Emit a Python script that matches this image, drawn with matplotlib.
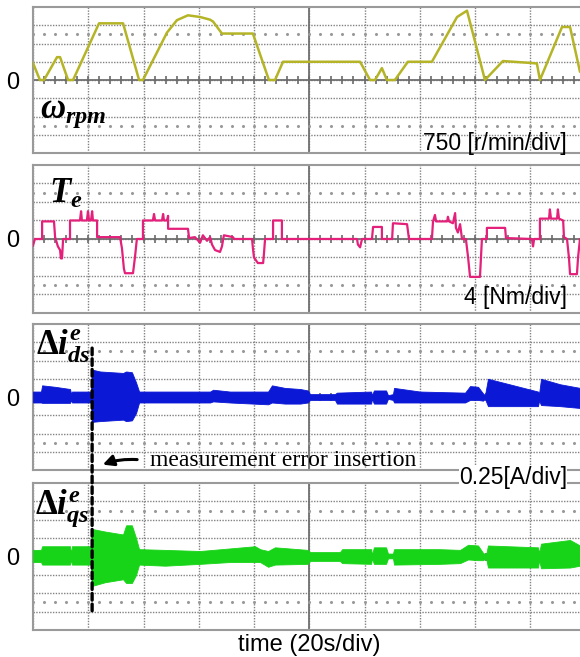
import matplotlib.pyplot as plt
import numpy as np
from matplotlib.patches import ConnectionPatch

plt.rcParams['font.family'] = ['Liberation Sans', 'DejaVu Sans']
plt.rcParams['mathtext.fontset'] = 'custom'
plt.rcParams['mathtext.rm'] = 'Liberation Serif:bold'
plt.rcParams['mathtext.it'] = 'Liberation Serif:italic:bold'
plt.rcParams['mathtext.bf'] = 'Liberation Serif:bold'

# scope settings
time_per_div = 20      # s/div
speed_per_div = 750    # r/min/div
torque_per_div = 4     # Nm/div
current_per_div = 0.25 # A/div
insertion_time = 21.4  # s, measurement error inserted

# speed trace (s, r/min)
speed = [(0, 700), (2.5, 0), (4.0, 0), (8.7, 940), (9.8, 940), (12.7, 0), (14.5, 0),
         (23.9, 2330), (32.6, 2330), (38.4, 0), (39.8, 0), (48.5, 1950), (52.1, 2460),
         (56.1, 2660), (60.5, 2590), (64.1, 2480), (65.2, 2400), (68.4, 1910),
         (79.6, 1910), (85.4, 0), (87.6, 0), (90.5, 750), (118.4, 750), (122.0, 0),
         (123.8, 0), (126.3, 490), (128.1, 0), (131.0, 0), (135.7, 750), (144.4, 750),
         (153.5, 2590), (157.1, 2850), (163.6, 0), (170.1, 780), (179.2, 710),
         (182.4, 680), (183.5, 0), (191.5, 2180), (194.4, 2180), (198.0, 340), (200, 200)]

# torque trace (s, Nm)
torque = [(0, -1.4), (0.7, 0), (3.3, 0), (3.3, 3.8), (7.6, 3.8), (8.0, 0.4), (9.0, -1.6),
          (9.8, -2.4), (10.1, -4.2), (10.5, -4.2), (10.9, 0), (13.4, 0), (13.4, 4.0),
          (17.0, 4.0), (17.4, 6.0), (17.7, 4.0), (19.5, 4.0), (19.9, 6.0), (20.3, 4.0),
          (21.0, 4.0), (21.4, 6.0), (21.7, 4.0), (23.2, 4.0), (23.2, 0.4), (31.5, 0.4),
          (32.2, -2.0), (32.9, -6.4), (33.3, -7.4), (36.2, -7.4), (36.9, -4.0), (37.6, 0),
          (39.8, 0), (39.8, 4.0), (43.4, 4.0), (43.8, 5.4), (44.2, 4.0), (46.7, 4.0),
          (47.1, 5.4), (47.4, 4.0), (48.5, 4.0), (48.9, 5.0), (48.9, 2.2), (56.1, 2.2),
          (56.5, 0.2), (58.6, 0.4), (60.5, -0.8), (61.5, 0.8), (63.0, -0.4), (64.1, 0.4),
          (64.8, -1.2), (65.9, -2.4), (67.7, -2.8), (68.4, -1.6), (69.1, 0.8), (72.4, 0.4),
          (72.8, 0), (79.3, 0), (79.6, -2.0), (80.0, -4.0), (81.4, -5.2), (83.3, -5.2),
          (83.6, -3.2), (84.0, 0), (86.9, 0), (86.9, 4.0), (90.1, 4.0), (90.1, 0),
          (117.3, 0), (117.6, -1.2), (118.4, -1.8), (119.1, 0), (122.7, 0), (123.1, 2.6),
          (126.3, 2.6), (126.3, 0), (130.0, 0), (130.3, 3.4), (135.4, 3.2), (136.1, 0),
          (144.4, 0), (144.8, 3.8), (145.5, 5.2), (145.9, 3.8), (149.9, 3.8), (150.2, 4.8),
          (150.6, 3.8), (152.0, 3.4), (152.8, 5.6), (153.1, 2.4), (153.8, 1.4), (154.6, 3.2),
          (155.3, 0), (156.7, 0), (157.5, -4.0), (158.2, -8.2), (161.8, -8.2), (162.5, 0),
          (164.3, 0), (164.3, 2.4), (170.9, 2.4), (171.2, 0.2), (180.6, 0), (181.0, -1.6),
          (181.4, 0), (183.5, 0), (183.5, 4.4), (186.8, 4.4), (187.1, 6.4), (187.5, 4.4),
          (189.7, 4.4), (190.0, 6.4), (190.4, 4.4), (191.9, 4.0), (192.2, 0.4), (193.3, 0),
          (194.0, -4.0), (194.4, -7.6), (196.9, -7.6), (197.3, -4.0), (198.0, 0), (200, 0)]

# current error envelopes (s, upper A, lower A)
ids_err = [(0, 0.075, -0.075), (2.9, 0.075, -0.075), (3.3, 0.16, -0.08), (8.0, 0.14, -0.08),
           (13.4, 0.11, -0.08), (13.8, 0.04, -0.04), (14.1, 0.075, -0.075), (21.0, 0.075, -0.075),
           (21.4, 0.375, -0.34), (24.3, 0.35, -0.33), (32.6, 0.33, -0.31), (33.7, 0.35, -0.33),
           (35.8, 0.34, -0.32), (37.3, 0.2, -0.22), (38.4, 0.075, -0.075), (64.1, 0.075, -0.075),
           (65.2, 0.1, -0.06), (71.3, 0.075, -0.075), (85.1, 0.075, -0.1), (86.5, 0.16, -0.075),
           (91.2, 0.125, -0.09), (96.7, 0.11, -0.09), (99.5, 0.09, -0.075), (100.3, 0.04, -0.04),
           (109.3, 0.04, -0.04), (110.0, 0.06, -0.09), (122.4, 0.075, -0.09), (122.7, 0.025, -0.025),
           (123.4, 0.09, -0.09), (127.8, 0.09, -0.09), (128.5, 0.025, -0.025), (130.3, 0.04, -0.04),
           (130.7, 0.125, -0.075), (140.1, 0.075, -0.075), (156.4, 0.06, -0.075), (158.2, 0.15, -0.04),
           (161.1, 0.14, -0.04), (162.9, 0.05, -0.05), (163.6, 0.025, -0.025), (164.7, 0.25, -0.125),
           (182.8, 0.075, -0.125), (183.2, 0.05, -0.05), (183.9, 0.25, -0.11), (190.8, 0.175, -0.125),
           (198.0, 0.125, -0.15), (200, 0.12, -0.15)]

iqs_err = [(0, 0.09, -0.075), (2.9, 0.09, -0.075), (3.3, 0.14, -0.11), (13.4, 0.14, -0.11),
           (13.8, 0.04, -0.04), (14.1, 0.14, -0.11), (21.0, 0.14, -0.11), (21.4, 0.375, -0.4),
           (26.1, 0.34, -0.35), (32.6, 0.3, -0.31), (33.7, 0.425, -0.36), (35.8, 0.425, -0.36),
           (37.3, 0.25, -0.25), (38.4, 0.1, -0.11), (47.8, 0.09, -0.125), (60.5, 0.075, -0.1),
           (71.3, 0.11, -0.075), (80.4, 0.14, -0.075), (82.2, 0.1, -0.075), (85.1, 0.075, -0.14),
           (87.6, 0.125, -0.11), (99.5, 0.09, -0.1), (100.3, 0.06, -0.06), (111.1, 0.06, -0.06),
           (111.9, 0.1, -0.09), (122.4, 0.1, -0.1), (122.7, 0.025, -0.025), (123.4, 0.125, -0.1),
           (127.8, 0.125, -0.1), (128.5, 0.04, -0.025), (130.3, 0.04, -0.025), (130.7, 0.1, -0.11),
           (147.3, 0.1, -0.1), (154.6, 0.09, -0.09), (157.5, 0.16, -0.04), (161.1, 0.15, -0.05),
           (162.9, 0.05, -0.05), (164.0, 0.025, -0.025), (164.7, 0.15, -0.15), (182.8, 0.125, -0.15),
           (183.2, 0.05, -0.05), (183.9, 0.175, -0.16), (194.4, 0.225, -0.15), (198.0, 0.15, -0.125),
           (200, 0.15, -0.125)]


def scope_axes(ax, per_div):
    ax.set_xlim(0, 10 * time_per_div)
    ax.set_ylim(-4 * per_div, 4 * per_div)
    ax.set_xticks(np.arange(0, 10 * time_per_div + 1, time_per_div))
    ax.set_yticks(np.arange(-3, 4) * per_div, ['', '', '', '0', '', '', ''])
    ax.grid(True, color='#828282', linestyle=(0, (1, 1)), linewidth=1.0)
    ax.tick_params(length=0, labelbottom=False, labelsize=17, pad=10)
    ax.axhline(0, color='#707070', lw=1.3, zorder=1.8)
    ax.axvline(5 * time_per_div, color='#707070', lw=1.3, zorder=1.8)
    sub = np.arange(0, 10 * time_per_div + 1, time_per_div / 5)
    ax.plot(sub, np.zeros(len(sub)), '|', color='#6a6a6a', ms=6, mew=1.2, zorder=1.8)
    for k in (-2.5, 2.5):
        ax.plot(sub, np.full(len(sub), k * per_div), '.', color='#999999', ms=2.4, zorder=1.8)
    for s in ax.spines.values():
        s.set_color('#9a9a9a')
        s.set_linewidth(1.5)


fig = plt.figure(figsize=(5.8, 6.57), dpi=100)
ax1 = fig.add_axes([0.0569, 0.7671, 0.9526, 0.2222])
ax2 = fig.add_axes([0.0569, 0.5236, 0.9526, 0.2253])
ax3 = fig.add_axes([0.0569, 0.2846, 0.9526, 0.2222])
ax4 = fig.add_axes([0.0569, 0.0411, 0.9526, 0.2237])

scope_axes(ax1, speed_per_div)
t, v = np.array(speed).T
ax1.plot(t, v, color='#b4b426', lw=1.8, zorder=3)
ax1.text(0.013, 0.24, r'$\omega_{rpm}$', transform=ax1.transAxes, fontsize=25, va='baseline')

scope_axes(ax2, torque_per_div)
t, v = np.array(torque).T
ax2.plot(t, v, color='#e3207a', lw=1.6, zorder=3)
ax2.text(0.029, 0.743, r'$T_e$', transform=ax2.transAxes, fontsize=25, va='baseline')

scope_axes(ax3, current_per_div)
t, hi, lo = np.array(ids_err).T
ax3.fill_between(t, lo, hi, color='#0b18d6', lw=0.6, edgecolor='#0b18d6', zorder=3)
ax3.text(0.005, 0.788, r'$\Delta i^e_{ds}$', transform=ax3.transAxes, fontsize=25, va='baseline')

scope_axes(ax4, current_per_div)
t, hi, lo = np.array(iqs_err).T
ax4.fill_between(t, lo, hi, color='#18d418', lw=0.6, edgecolor='#18d418', zorder=3)
ax4.text(0.004, 0.796, r'$\Delta i^e_{qs}$', transform=ax4.transAxes, fontsize=25, va='baseline')
ax4.set_xlabel('time (20s/div)', fontsize=17, labelpad=3)

# measurement error insertion marker
con = ConnectionPatch(xyA=(insertion_time, 0.67), coordsA=ax3.transData,
                      xyB=(insertion_time, -0.79), coordsB=ax4.transData,
                      color='black', lw=2.4, linestyle=(0, (2, 1.2)), zorder=5)
fig.add_artist(con)
ax3.annotate('', xy=(24.3, -0.94), xytext=(38.7, -0.86), annotation_clip=False,
             arrowprops=dict(arrowstyle='-|>', color='black', lw=2.2,
                             connectionstyle='arc3,rad=0.12', mutation_scale=16))
ax3.text(42.4, -0.87, 'measurement error insertion', family='Liberation Serif',
         fontsize=17, va='center')

fig.text(0.9776, 0.7823, '750 [r/min/div]', ha='right', va='center', fontsize=16.5)
fig.text(0.9776, 0.5479, '4 [Nm/div]', ha='right', va='center', fontsize=16.5)
fig.text(0.9776, 0.2725, '0.25[A/div]', ha='right', va='center', fontsize=16.5,
         bbox=dict(facecolor='white', edgecolor='none', pad=0))

plt.savefig('out.png', dpi=100)
plt.close()
